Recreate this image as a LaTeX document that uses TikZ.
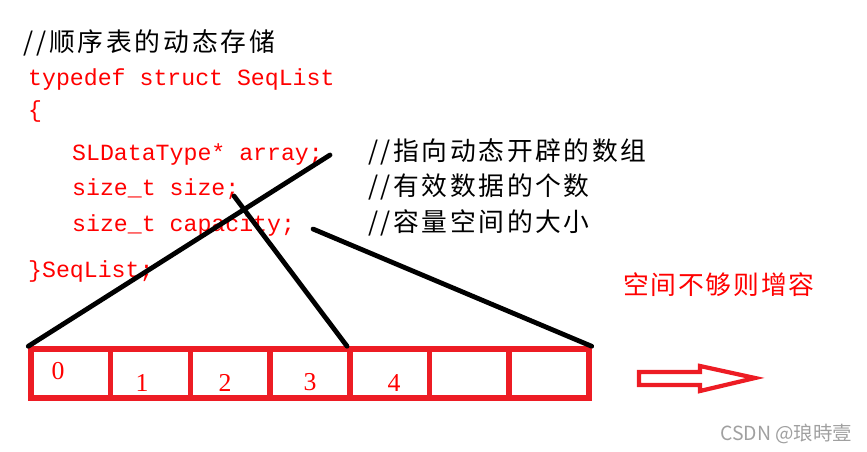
\documentclass[tikz,border=0pt]{standalone}
\usepackage{fontspec}
\setmainfont{Liberation Serif}
\setmonofont{Liberation Mono}
\newfontfamily\cjk{Noto Sans CJK SC}
\newfontfamily\cjktitle[LetterSpace=11]{Noto Sans CJK SC}
\newfontfamily\cjkwide[LetterSpace=10]{Noto Sans CJK SC}
\newfontfamily\cjknote[LetterSpace=7]{Noto Sans CJK SC}
\usetikzlibrary{positioning}
\definecolor{codered}{RGB}{255,0,0}
\definecolor{boxred}{RGB}{237,28,36}
\definecolor{markgray}{RGB}{160,160,160}

\begin{document}
\begin{tikzpicture}
	[x=0.03cm,y=-0.03cm,every node/.style={inner sep=0pt,anchor=base west},
	code/.style={text=codered,font=\ttfamily\fontsize{19.8}{24}\selectfont},
	remark/.style={font=\cjkwide\fontsize{22}{26}\selectfont},
	cell/.style={draw=boxred,line width=4.7pt,anchor=center,minimum width=2.39cm,minimum height=1.47cm},
	digit/.style={anchor=center,text=codered,font=\fontsize{22}{26}\selectfont},
	link/.style={line width=4.1pt,line cap=round}]
	\useasboundingbox (0,0) rectangle (867,452);
	% title and struct
	\node (title) at (23,52) {\cjktitle\fontsize{22}{26}\selectfont //顺序表的动态存储};
	\node[code] (l1) at (28,86) {typedef struct SeqList};
	\node[code] (l2) at (28,118) {\{};
	\node[code] (l3) at (72,161) {SLDataType* array;};
	\node[code] (l4) at (72,196) {size\_t size;};
	\node[code] (l5) at (72,231) {size\_t capacity;};
	\node[code] (l6) at (28,277) {\}SeqList;};
	% comments
	\node[remark] (r3) at (368,161) {//指向动态开辟的数组};
	\node[remark] (r4) at (368,196) {//有效数据的个数};
	\node[remark] (r5) at (368,231) {//容量空间的大小};
	\node[text=codered] (grow) at (623,294) {\cjknote\fontsize{22}{26}\selectfont 空间不够则增容};
	% array cells
	\foreach \i in {0,...,6}
	\node[cell] (c\i) at ({70.85+79.7*\i},373.5) {};
	\foreach \d/\x/\y in {0/58/371, 1/142/383, 2/225/383, 3/310/382, 4/394/383}
	\node[digit] (d\d) at (\x,\y) {\d};
	% grow arrow
	\draw[boxred,line width=3.6pt,line join=miter]
	(639,372) -- (700,372) -- (700,366) -- (755,378) -- (700,391) -- (700,385) -- (639,385) -- cycle;
	% links from the fields to the cells
	\coordinate (p1) at (330,155);
	\coordinate (p2) at (234,196);
	\coordinate (p3) at (313,229);
	\foreach \from/\to in {p1/c0.north west, p2/c4.north west, p3/c6.north east}
	\draw[link] (\from) -- (\to);
	\node[text=markgray] (mark) at (720,440) {\cjk\fontsize{16.6}{19}\selectfont CSDN @琅時壹};
\end{tikzpicture}
\end{document}
